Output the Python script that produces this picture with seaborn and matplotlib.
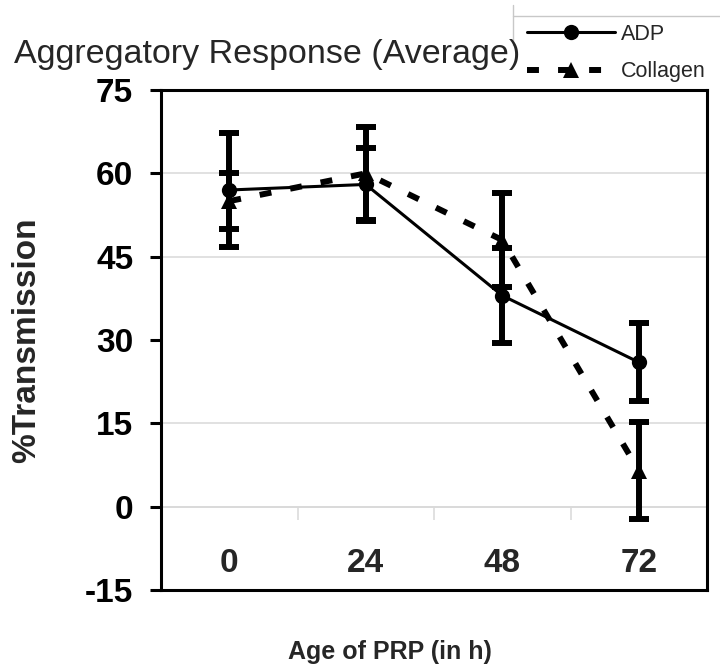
import matplotlib
matplotlib.use("Agg")
import matplotlib.pyplot as plt
import seaborn as sns
import numpy as np
import pandas as pd
from matplotlib.lines import Line2D

# ---- data ----
hours = ["0", "24", "48", "72"]
adp_mean = [57, 58, 38, 26]
adp_err = [10.3, 6.5, 8.5, 7.0]
col_mean = [55, 60, 48, 6.5]
col_err = [5.0, 8.4, 8.5, 8.8]
series_names = ["ADP", "Collagen"]
y_ticks = [-15, 0, 15, 30, 45, 60, 75]
grid_levels = [0, 15, 45, 60]

sns.set_theme(style="white")
plt.rcParams["font.family"] = ["Liberation Sans", "DejaVu Sans"]

fig = plt.figure(figsize=(7.2, 6.71), dpi=100)
ax = fig.add_axes([161/720, 1-590/671, 546/720, 500/671])

pos = np.arange(len(hours))

# grid lines
for g in grid_levels:
    ax.axhline(g, color="#d9d9d9", lw=1.1, zorder=0)

styles = {
    "ADP": dict(marker="o", markersize=14, linewidth=2.2, linestyle="-"),
    "Collagen": dict(marker="^", markersize=15, linewidth=4.3, linestyle=(0, (2, 3.2))),
}
data = {"ADP": (adp_mean, adp_err), "Collagen": (col_mean, col_err)}

for name in series_names:
    m, e = data[name]
    df = pd.DataFrame({"pos": pos, "value": m})
    sns.lineplot(data=df, x="pos", y="value", ax=ax, color="black",
                 markeredgewidth=0, label=name, zorder=3, **styles[name])
    ax.errorbar(pos, m, yerr=e, fmt="none", ecolor="black", elinewidth=4.3,
                capsize=7.2, capthick=4.3, zorder=2)

ax.set_xlim(-0.5, 3.5)
ax.set_ylim(-15, 75)
ax.set_yticks(y_ticks)
ax.set_yticklabels([str(t) for t in y_ticks], fontsize=24, fontweight="bold")
ax.tick_params(axis="y", direction="out", length=8, width=2.2, pad=12,
               left=True, colors="black")
ax.tick_params(axis="x", bottom=False, labelbottom=False)
ax.set_xlabel("")
ax.set_ylabel("%Transmission", fontsize=24, fontweight="bold")
ax.yaxis.set_label_coords(-0.218, 0.5)
for s in ax.spines.values():
    s.set_color("black")
    s.set_linewidth(2.2)

# category axis crossing at y = 0
sec = ax.secondary_xaxis(15/90)
sec.set_xticks(pos)
sec.set_xticklabels(hours, fontsize=24, fontweight="bold")
sec.set_xticks([0.5, 1.5, 2.5], minor=True)
sec.tick_params(axis="x", which="major", length=0, pad=30)
sec.tick_params(axis="x", which="minor", length=9, width=1.1, color="#d9d9d9",
                direction="out")
sec.spines["bottom"].set_color("#d9d9d9")
sec.spines["bottom"].set_linewidth(1.1)

# legend
handles, labels = ax.get_legend_handles_labels()
for h in handles:
    h.set_markersize(11)
ax.legend(handles, labels, loc="upper left", bbox_to_anchor=(527/720, 1-24/671),
          bbox_transform=fig.transFigure, frameon=False, fontsize=15.5,
          handlelength=4.1, handletextpad=0.25, labelspacing=0.75,
          borderpad=0, borderaxespad=0)
fig.add_artist(Line2D([513/720, 1.0], [1-16/671, 1-16/671], color="#c8c8c8", lw=1))
fig.add_artist(Line2D([513/720, 513/720], [1-5/671, 1-45/671], color="#c8c8c8", lw=1))

fig.text(14/720, 1-63/671, "Aggregatory Response (Average)", fontsize=24.5,
         ha="left", va="baseline")
fig.text(390/720, 1-652/671, "Age of PRP (in h)", fontsize=18,
         fontweight="bold", ha="center", va="center")

fig.savefig("out.png", dpi=100)
